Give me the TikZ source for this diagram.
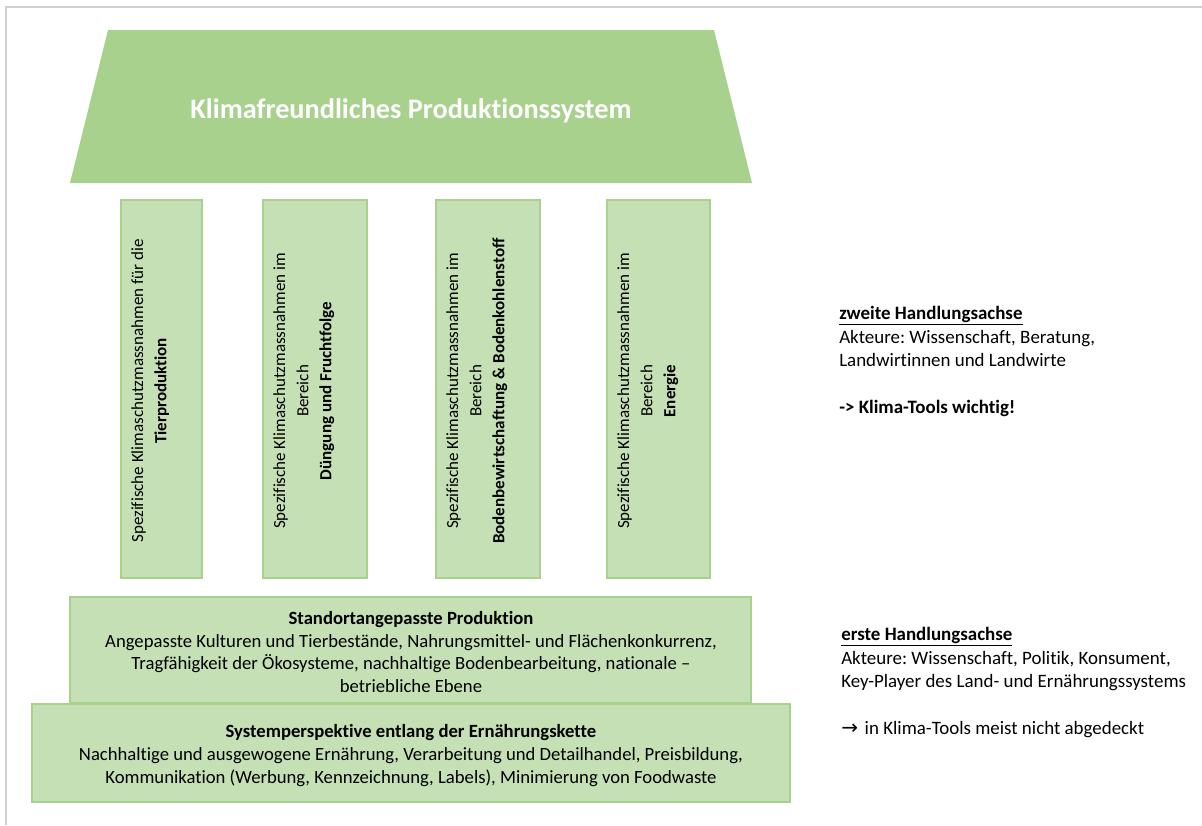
\documentclass[tikz,border=0pt]{standalone}
\usepackage{fontspec}
\setmainfont{Carlito}[Ligatures=NoCommon]
\newfontfamily\arrowfont{DejaVu Sans}
\frenchspacing
\definecolor{roofgreen}{HTML}{A9D18E}
\definecolor{boxgreen}{HTML}{C5E0B4}
\definecolor{framegray}{HTML}{D0D0D0}
\tikzset{
  roof/.style={fill=roofgreen},
  boxshape/.style={fill=boxgreen, draw=roofgreen, line width=1.2pt},
  txt/.style={font=\fontsize{12.75}{17.4}\selectfont\frenchspacing, inner sep=0pt, text=black},
  bigtxt/.style={font=\fontsize{14}{17.4}\selectfont\frenchspacing, inner sep=0pt, text=black},
  pillartext/.style={txt, rotate=90, align=center, anchor=north},
  basetext/.style={bigtxt, font=\fontsize{14}{17}\selectfont\frenchspacing, align=center, anchor=north},
  sidetext/.style={bigtxt, font=\fontsize{14.2}{17.6}\selectfont\frenchspacing, align=left, anchor=north west},
  titletext/.style={font=\fontsize{21.2}{25}\selectfont\bfseries, text=white, inner sep=0pt}
}
\begin{document}
\begin{tikzpicture}[x=0.75pt,y=-0.75pt]
\useasboundingbox (0,0) rectangle (1202,825);
% frame lines
\draw[framegray, line width=1.5pt] (6,825) -- (6,7) -- (1202,7);
% roof
\fill[roof] (108,30) -- (714,30) -- (752,183) -- (70,183) -- cycle;
\node[titletext] (title) at (411,111) {Klimafreundliches Produktionssystem};
% pillars
\draw[boxshape] (121,200) rectangle (202,578);
\draw[boxshape] (263,200) rectangle (367,578);
\draw[boxshape] (436,200) rectangle (540,578);
\draw[boxshape] (607,200) rectangle (710,578);
\node[pillartext] (p1) at (131,391) {Spezifische Klimaschutzmassnahmen für die\\\textbf{Tierproduktion}};
\node[pillartext] (p2) at (273,391) {Spezifische Klimaschutzmassnahmen im\\Bereich\\\textbf{Düngung und Fruchtfolge}};
\node[pillartext] (p3) at (446,391) {Spezifische Klimaschutzmassnahmen im\\Bereich\\\textbf{Bodenbewirtschaftung \& Bodenkohlenstoff}};
\node[pillartext] (p4) at (617,391) {Spezifische Klimaschutzmassnahmen im\\Bereich\\\textbf{Energie}};
% base boxes
\draw[boxshape] (70,597) rectangle (751,703);
\draw[boxshape] (32,704) rectangle (790,802);
\node[basetext] (b1) at (411,611) {\textbf{Standortangepasste Produktion}\\Angepasste Kulturen und Tierbestände, Nahrungsmittel- und Flächenkonkurrenz,\\Tragfähigkeit der Ökosysteme, nachhaltige Bodenbearbeitung, nationale –\\betriebliche Ebene};
\node[basetext] (b2) at (411,724.5) {\textbf{Systemperspektive entlang der Ernährungskette}\\Nachhaltige und ausgewogene Ernährung, Verarbeitung und Detailhandel, Preisbildung,\\Kommunikation (Werbung, Kennzeichnung, Labels), Minimierung von Foodwaste};
% side texts
\node[sidetext] (s2) at (839,306) {\underline{\textbf{zweite Handlungsachse}}\\Akteure: Wissenschaft, Beratung,\\Landwirtinnen und Landwirte\\[17.6pt]\textbf{-> Klima-Tools wichtig!}};
\node[sidetext] (s1) at (841,627) {\underline{\textbf{erste Handlungsachse}}\\Akteure: Wissenschaft, Politik, Konsument,\\Key-Player des Land- und Ernährungssystems\\[17.6pt]{\arrowfont\fontsize{15}{17.6}\selectfont →}\hspace{5pt}in Klima-Tools meist nicht abgedeckt};
\end{tikzpicture}
\end{document}
